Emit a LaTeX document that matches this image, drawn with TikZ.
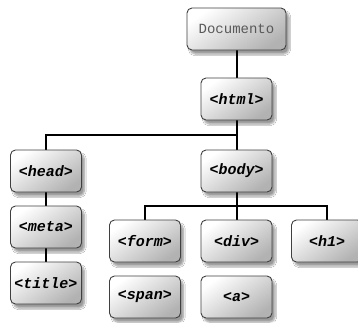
\documentclass[tikz,border=0pt]{standalone}
\usepackage{fontspec}
\setmonofont{Liberation Mono}
\usetikzlibrary{shadows,shadows.blur,backgrounds}
\begin{document}
\begin{tikzpicture}[x=1pt,y=-1pt,
  box/.style={draw=black!75, line width=0.9pt, rounded corners=5pt,
    minimum width=71pt, minimum height=42pt, inner sep=0pt,
    shading=axis, top color=white, bottom color=black!30, shading angle=35,
    blur shadow={shadow xshift=3pt, shadow yshift=-4pt, shadow blur steps=6, shadow opacity=40},
    font=\fontsize{15}{17}\ttfamily\bfseries\itshape},
  docbox/.style={box, minimum width=99pt, font=\fontsize{14}{16}\ttfamily, text=black!65},
  conn/.style={line width=2pt, black}]
\clip (0,0) rectangle (358,322);
\node[box] (html) at (236.5,99) {<html>};
\node[box] (head) at (46,171) {<head>};
\node[box] (body) at (236.5,171) {<body>};
\node[box] (meta) at (46,227) {<meta>};
\node[box] (title) at (46,283) {<title>};
\node[box] (form) at (145,241) {<form>};
\node[box] (div) at (236.5,241) {<div>};
\node[box] (h1) at (327,241) {<h1>};
\node[box] (span) at (145,297) {<span>};
\node[box] (a) at (236.5,297) {<a>};
\node[docbox] (doc) at (236.5,29) {Documento};
\coordinate (hb) at (236.5,135);
\coordinate (bb) at (236.5,206);
\begin{pgfonlayer}{background}
\fill[white] (0,0) rectangle (358,322);
\draw[conn] (doc) -- (html);
\draw[conn] (html) -- (body);
\draw[conn] (head.north) |- (hb);
\draw[conn] (form.north) |- (bb) -| (h1.north);
\draw[conn] (body) -- (div);
\draw[conn] (head) -- (meta);
\draw[conn] (meta) -- (title);
\end{pgfonlayer}
\end{tikzpicture}
\end{document}
